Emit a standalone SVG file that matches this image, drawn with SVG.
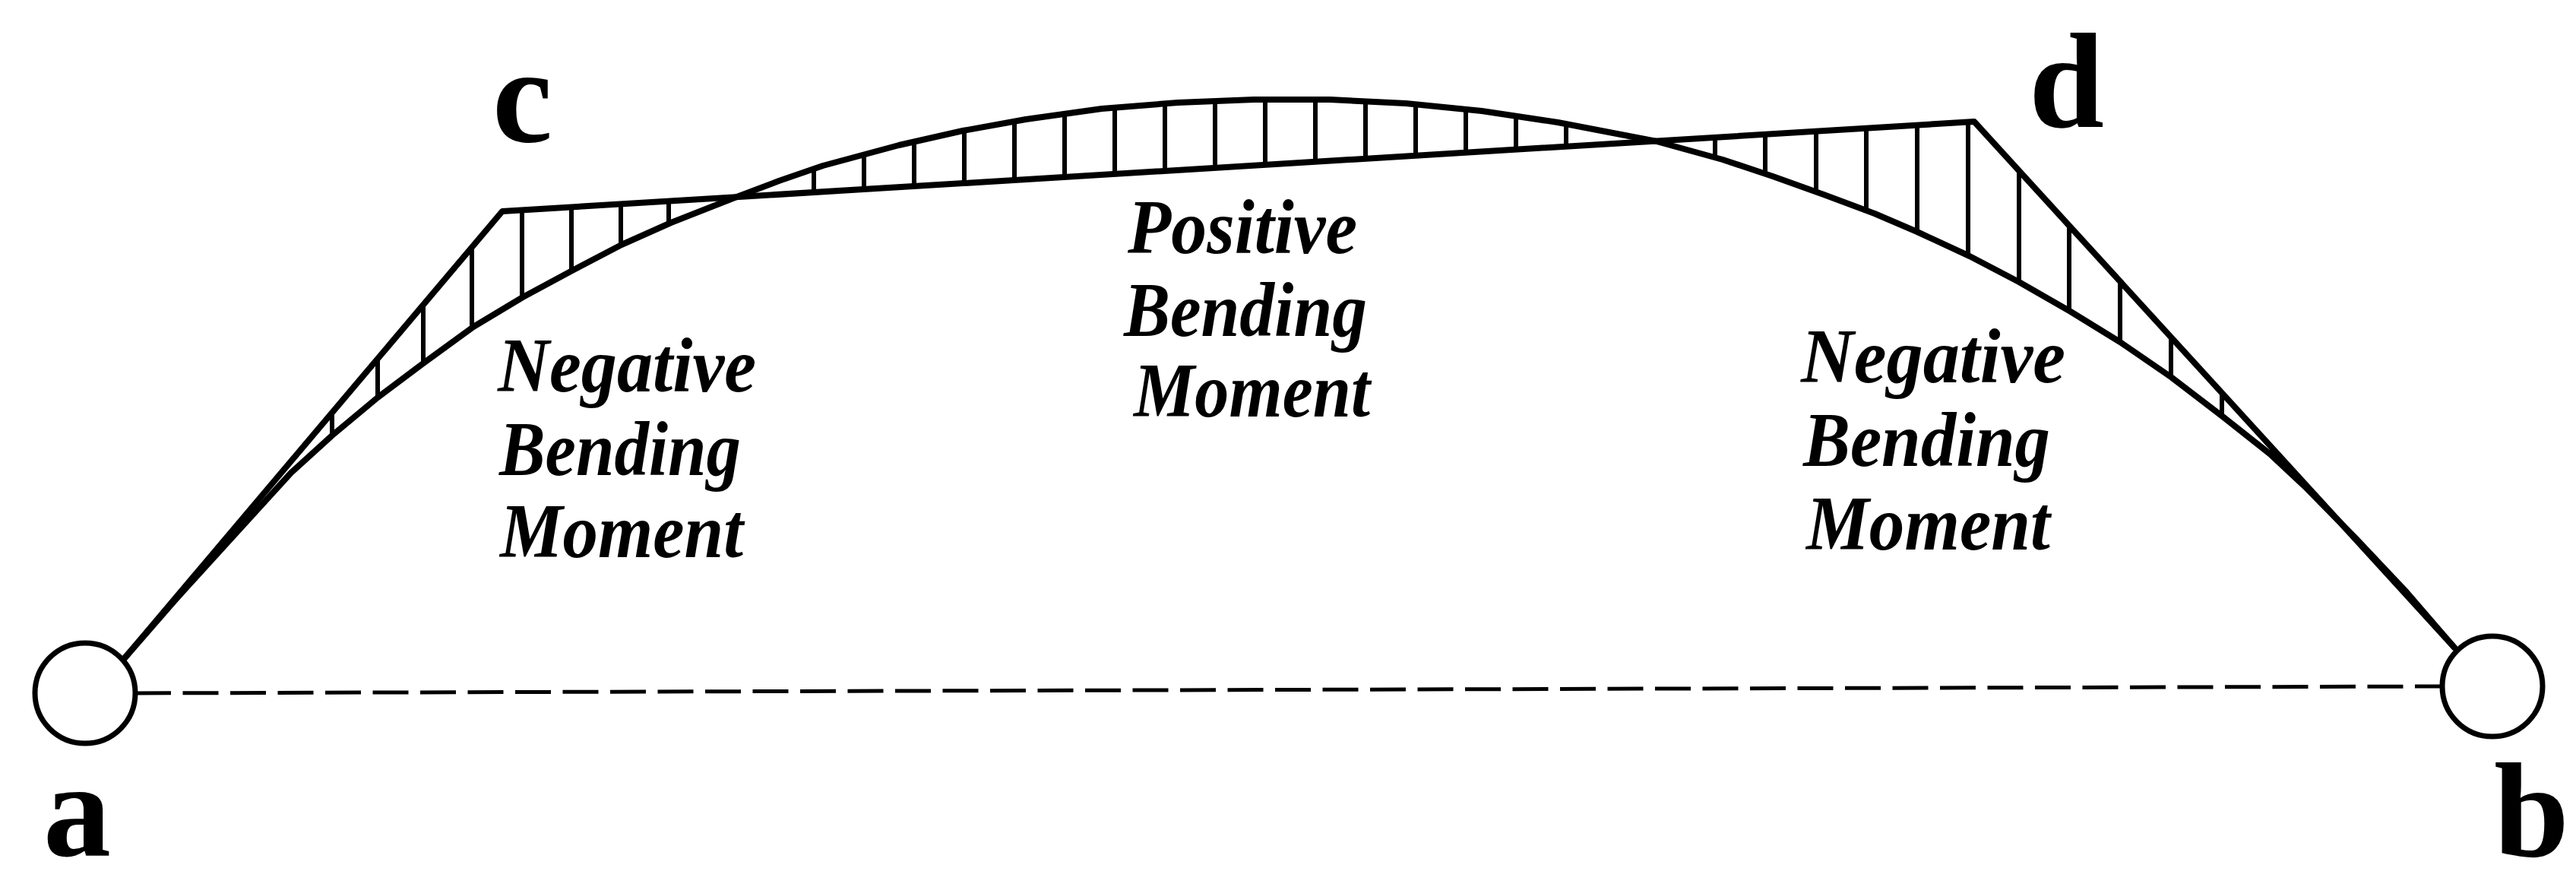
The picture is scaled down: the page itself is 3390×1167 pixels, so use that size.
<svg xmlns="http://www.w3.org/2000/svg" width="3390" height="1167" viewBox="0 0 3390 1167">
<style>
.ln{fill:none;stroke:#000;stroke-width:8;stroke-linejoin:round;stroke-linecap:round}
.hatch{stroke:#000;stroke-width:6;stroke-linecap:butt}
.sup{fill:#fff;stroke:#000;stroke-width:7}
.dash{stroke:#000;stroke-width:5;stroke-dasharray:47 15.5}
.pt{font-family:"Liberation Serif","Times New Roman",serif;font-weight:bold;font-size:178px;fill:#000}
.lbl{font-family:"Liberation Serif","Times New Roman",serif;font-weight:bold;font-style:italic;font-size:102px;fill:#000}
</style>
<rect width="3390" height="1167" fill="#fff"/>
<g id="connectors">
<line class="dash" x1="178" y1="912" x2="3214" y2="903"/>
<polyline id="moment-line" class="ln" points="163,867 661,278 2598,160 3230,852"/>
<polyline id="arch" class="ln" points="163,867 230,790 300,713 383,622 437,573 497,523 557,478 623,430 688,391 753,356 818,322 883,293 967,260 1025,238 1083,218 1183,191 1267,172 1350,157 1450,143 1550,135 1650,131 1750,131 1850,136 1950,146 2050,161 2180,186 2267,210 2333,232 2400,256 2467,281 2523,305 2592,337 2657,371 2725,410 2790,450 2857,496 2925,548 2987,597 3033,640 3100,708 3167,779 3230,852"/>
</g>
<g id="hatching">
<line class="hatch" x1="437" y1="543" x2="437" y2="573"/>
<line class="hatch" x1="497" y1="472" x2="497" y2="523"/>
<line class="hatch" x1="557" y1="401" x2="557" y2="478"/>
<line class="hatch" x1="621" y1="325" x2="621" y2="431"/>
<line class="hatch" x1="687" y1="276" x2="687" y2="392"/>
<line class="hatch" x1="752" y1="272" x2="752" y2="357"/>
<line class="hatch" x1="817" y1="268" x2="817" y2="323"/>
<line class="hatch" x1="880" y1="265" x2="880" y2="294"/>
<line class="hatch" x1="1071" y1="222" x2="1071" y2="253"/>
<line class="hatch" x1="1137" y1="203" x2="1137" y2="249"/>
<line class="hatch" x1="1203" y1="186" x2="1203" y2="245"/>
<line class="hatch" x1="1269" y1="172" x2="1269" y2="241"/>
<line class="hatch" x1="1335" y1="160" x2="1335" y2="237"/>
<line class="hatch" x1="1401" y1="150" x2="1401" y2="233"/>
<line class="hatch" x1="1467" y1="142" x2="1467" y2="229"/>
<line class="hatch" x1="1533" y1="136" x2="1533" y2="225"/>
<line class="hatch" x1="1599" y1="133" x2="1599" y2="221"/>
<line class="hatch" x1="1665" y1="131" x2="1665" y2="217"/>
<line class="hatch" x1="1731" y1="131" x2="1731" y2="213"/>
<line class="hatch" x1="1797" y1="133" x2="1797" y2="209"/>
<line class="hatch" x1="1863" y1="137" x2="1863" y2="205"/>
<line class="hatch" x1="1929" y1="144" x2="1929" y2="201"/>
<line class="hatch" x1="1995" y1="153" x2="1995" y2="197"/>
<line class="hatch" x1="2061" y1="163" x2="2061" y2="193"/>
<line class="hatch" x1="2257" y1="181" x2="2257" y2="207"/>
<line class="hatch" x1="2323" y1="177" x2="2323" y2="229"/>
<line class="hatch" x1="2390" y1="173" x2="2390" y2="252"/>
<line class="hatch" x1="2456" y1="169" x2="2456" y2="277"/>
<line class="hatch" x1="2523" y1="165" x2="2523" y2="305"/>
<line class="hatch" x1="2590" y1="160" x2="2590" y2="336"/>
<line class="hatch" x1="2657" y1="225" x2="2657" y2="371"/>
<line class="hatch" x1="2723" y1="297" x2="2723" y2="409"/>
<line class="hatch" x1="2790" y1="370" x2="2790" y2="450"/>
<line class="hatch" x1="2857" y1="444" x2="2857" y2="496"/>
<line class="hatch" x1="2924" y1="517" x2="2924" y2="547"/>
<line class="hatch" x1="2990" y1="589" x2="2990" y2="600"/>
</g>
<g id="support-a">
<circle class="sup" cx="112" cy="912" r="66"/>
<text class="pt" x="57" y="1126">a</text>
</g>
<g id="support-b">
<circle class="sup" cx="3280" cy="903" r="66"/>
<text class="pt" x="3282" y="1127">b</text>
</g>
<g id="point-c">
<text class="pt" x="648" y="186">c</text>
</g>
<g id="point-d">
<text class="pt" x="2670" y="167">d</text>
</g>
<g id="label-negative-left">
<text class="lbl" x="655" y="515" textLength="340" lengthAdjust="spacingAndGlyphs">Negative</text>
<text class="lbl" x="657" y="625" textLength="318" lengthAdjust="spacingAndGlyphs">Bending</text>
<text class="lbl" x="658" y="733" textLength="320" lengthAdjust="spacingAndGlyphs">Moment</text>
</g>
<g id="label-positive">
<text class="lbl" x="1484" y="333" textLength="302" lengthAdjust="spacingAndGlyphs">Positive</text>
<text class="lbl" x="1479" y="442" textLength="320" lengthAdjust="spacingAndGlyphs">Bending</text>
<text class="lbl" x="1492" y="548" textLength="311" lengthAdjust="spacingAndGlyphs">Moment</text>
</g>
<g id="label-negative-right">
<text class="lbl" x="2370" y="503" textLength="348" lengthAdjust="spacingAndGlyphs">Negative</text>
<text class="lbl" x="2373" y="613" textLength="325" lengthAdjust="spacingAndGlyphs">Bending</text>
<text class="lbl" x="2377" y="723" textLength="321" lengthAdjust="spacingAndGlyphs">Moment</text>
</g>
</svg>
